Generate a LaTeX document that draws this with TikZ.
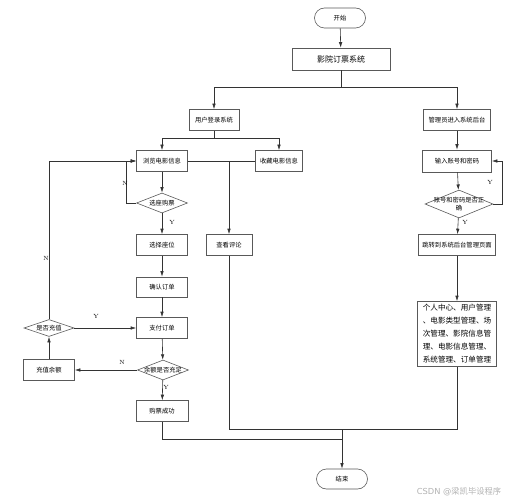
\documentclass[tikz,border=0pt]{standalone}
\usepackage{fontspec}
\newfontfamily\cjk{Noto Sans CJK SC}
\usetikzlibrary{shapes.geometric, arrows.meta}

\begin{document}
\begin{tikzpicture}[x=1pt,y=-1pt,
  line width=0.6pt, draw=black!80,
  box/.style={draw=black!65, minimum width=51pt, minimum height=21pt, inner sep=1pt, font=\cjk\fontsize{6.3}{7}\selectfont},
  term/.style={box, rounded corners=10pt, minimum width=51pt, minimum height=20pt},
  dia/.style={draw=black!65, diamond, inner sep=0pt, minimum width=51pt, minimum height=20pt, font=\cjk\fontsize{6.3}{7}\selectfont},
  arr/.style={-{Latex[length=5.5pt,width=3.5pt]}},
  yn/.style={font=\fontsize{6}{7}\selectfont}]
\useasboundingbox (0,0) rectangle (509,500);

\node[term] (start) at (340,18) {开始};
\node[box, minimum width=98pt, minimum height=22pt, font=\cjk\fontsize{8}{9}\selectfont] (sys) at (341,59) {影院订票系统};
\node[box, minimum width=50pt] (user) at (214,120) {用户登录系统};
\node[box, minimum width=67pt] (admin) at (457,120) {管理员进入系统后台};

\node[box] (browse) at (162,161) {浏览电影信息};
\node[box, minimum width=47pt] (fav) at (279,161) {收藏电影信息};
\node[dia] (pick) at (162,203) {\makebox[0pt]{选座购票}};
\node[box] (seat) at (162,245) {选择座位};
\node[box, minimum width=46pt] (review) at (229,245) {查看评论};
\node[box, minimum height=20pt] (confirm) at (162,287) {确认订单};
\node[box] (pay) at (162,328) {支付订单};
\node[dia] (enough) at (163,370) {\makebox[0pt]{余额是否充足}};
\node[box] (recharge) at (49,370) {充值余额};
\node[dia, minimum width=50pt, minimum height=17pt] (ask) at (49,328) {\makebox[0pt]{是否充值}};
\node[box, minimum width=52pt] (success) at (162,411) {购票成功};
\node[term] (end) at (342,479) {结束};

\node[box, minimum width=69pt, minimum height=22pt] (login) at (457,161) {输入账号和密码};
\node[dia, minimum width=68pt, minimum height=28pt] (check) at (459,204) {\makebox[0pt]{\shortstack{账号和密码是否正\\确}}};
\node[box, minimum width=77pt] (jump) at (457,245) {跳转到系统后台管理页面};
\node[box, minimum width=79pt, minimum height=65pt, align=left, font=\cjk\fontsize{7.6}{13}\selectfont] (mgr) at (457,334) {个人中心、用户管理\\、电影类型管理、场\\次管理、影院信息管\\理、电影信息管理、\\系统管理、订单管理};

\coordinate (s1) at (341,87);
\coordinate (s2) at (214,138);
\coordinate (br) at (229,161);
\coordinate (c1) at (457,429);
\coordinate (j1) at (342,429);
\coordinate (j2) at (342,439);

\draw[arr] (start) -- (sys);
\draw (sys.south) -- (s1);
\draw[arr] (s1) -| (user.north);
\draw[arr] (s1) -| (admin.north);
\draw (user.south) -- (s2);
\draw[arr] (s2) -| (browse.north);
\draw[arr] (s2) -| (fav.north);
\draw (browse.east) -- (fav.west);
\draw[arr] (br) -- (review.north);

\draw[arr] (browse) -- (pick);
\draw[arr] (pick.west) -- ++(-10,0) |- (browse.west);
\draw[arr] (pick) -- (seat);
\draw[arr] (seat) -- (confirm);
\draw[arr] (confirm) -- (pay);
\draw[arr] (pay) -- (enough);
\draw[arr] (enough.west) -- (recharge.east);
\draw[arr] (recharge) -- (ask);
\draw[arr] (ask.east) -- (pay.west);
\draw[arr] (ask.north) |- (browse.west);
\draw[arr] (enough) -- (success);

\draw (success.south) |- (j2);
\draw (review.south) |- (c1) -- (mgr.south);
\draw[arr] (j1) -- (end.north);

\draw[arr] (admin) -- (login);
\draw[arr] (login) -- (check);
\draw[arr] (check.east) -- ++(9,0) |- (login.east);
\draw[arr] (check) -- (jump);
\draw[arr] (jump) -- (mgr);

\node[yn] (n1) at (125,183) {N};
\node[yn] (y1) at (172,222) {Y};
\node[yn] (n2) at (46,258) {N};
\node[yn] (y2) at (96,316) {Y};
\node[yn] (n3) at (122,362) {N};
\node[yn] (y3) at (166,387) {Y};
\node[yn] (y4) at (490,182) {Y};
\node[yn] (y5) at (465,222) {Y};

\node[font=\fontspec{DejaVu Sans}\fontsize{8.3}{9}\selectfont, text=black!30] (wm) at (459,492) {CSDN @{\cjk 梁凯毕设程序}};
\end{tikzpicture}
\end{document}
